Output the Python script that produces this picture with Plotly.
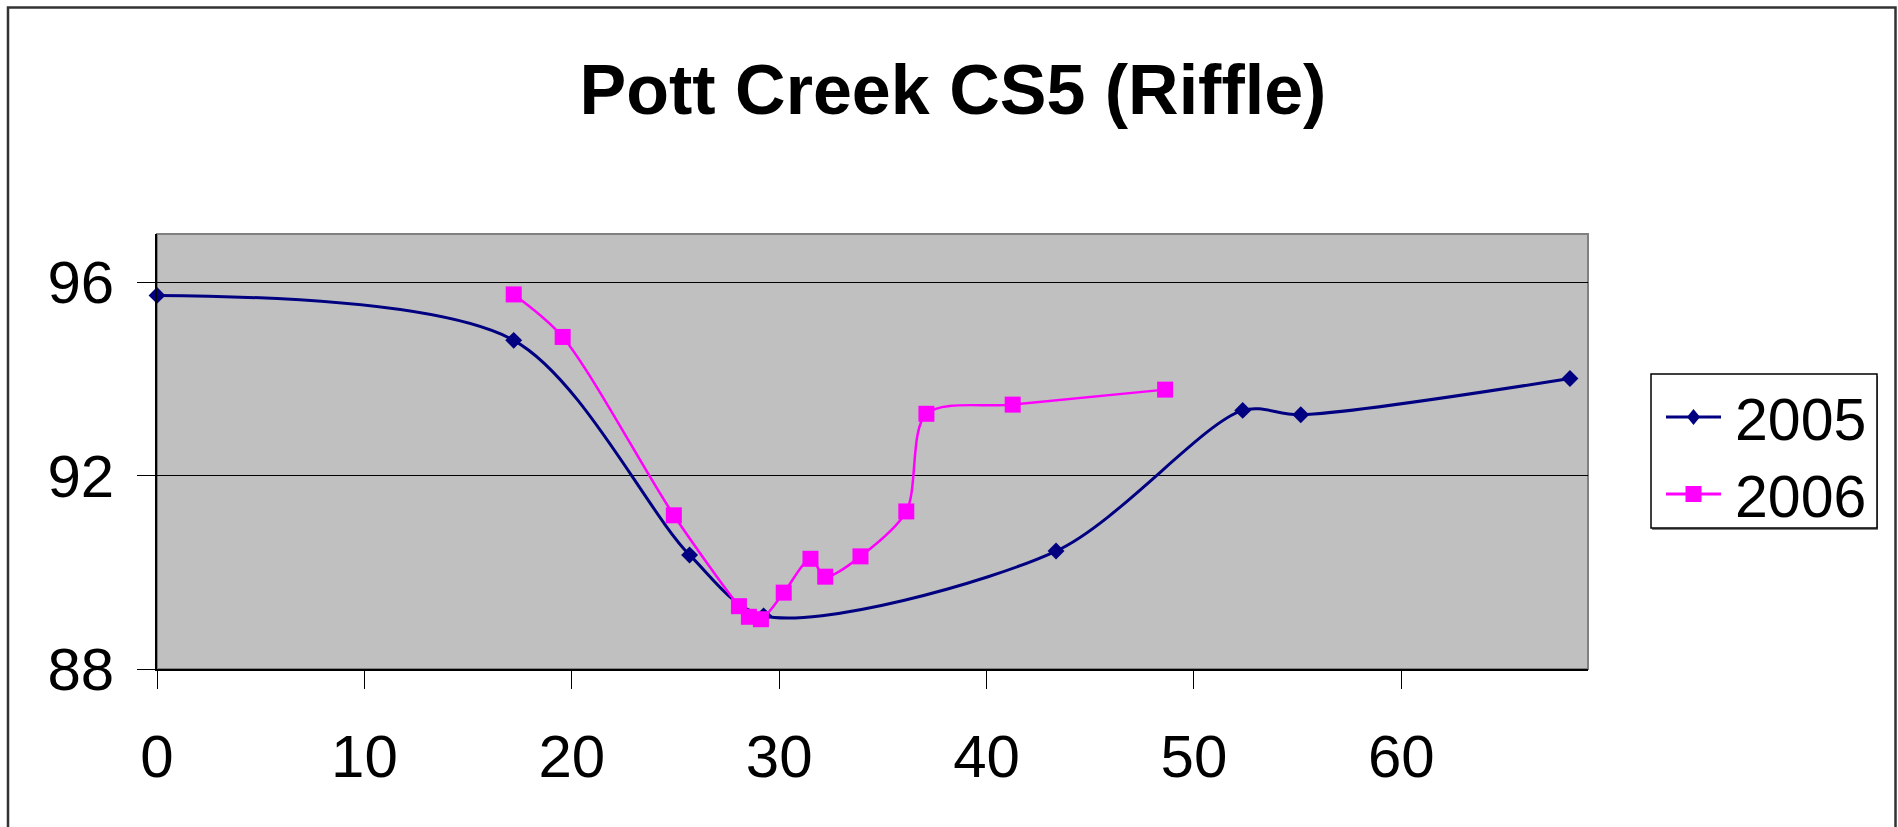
import plotly.graph_objects as go

# ---- data ----
x_2005 = [0, 17.2, 25.68, 29.25, 43.35, 52.35, 55.15, 68.13]
y_2005 = [95.73, 94.8, 90.36, 89.1, 90.44, 93.35, 93.26, 94.01]

x_2006 = [17.2, 19.56, 24.92, 28.06, 28.54, 29.12, 30.22, 31.51, 32.22, 33.92, 36.13, 37.1, 41.26, 48.61]
y_2006 = [95.75, 94.87, 91.18, 89.3, 89.08, 89.03, 89.58, 90.28, 89.91, 90.33, 91.26, 93.28, 93.47, 93.78]

series_names = ["2005", "2006"]
series_colors = ["#000080", "#FF00FF"]
title_text = "Pott Creek CS5 (Riffle)"
x_ticks = [0, 10, 20, 30, 40, 50, 60]
y_ticks = [88, 92, 96]

# ---- layout geometry (pixels) ----
W, H = 1898, 827
ML, MR, MT, MB = 157, W - 1588, 234, H - 669
PW = W - ML - MR
PH = H - MT - MB

def px_x(px):
    return (px - ML) / PW

def px_y(py):
    return (H - MB - py) / PH

FONT = "Liberation Sans, Arial, sans-serif"

fig = go.Figure()
fig.add_trace(go.Scatter(
    x=x_2005, y=y_2005, name=series_names[0], mode="lines+markers",
    line=dict(color=series_colors[0], width=3, shape="spline", smoothing=0.85),
    marker=dict(symbol="diamond", size=13, color=series_colors[0]),
    showlegend=False, cliponaxis=False,
))
fig.add_trace(go.Scatter(
    x=x_2006, y=y_2006, name=series_names[1], mode="lines+markers",
    line=dict(color=series_colors[1], width=2.5, shape="spline", smoothing=0.85),
    marker=dict(symbol="square", size=16, color=series_colors[1]),
    showlegend=False, cliponaxis=False,
))

# ---- custom legend (box, sample lines, symbols, labels) ----
LEG_X0, LEG_X1, LEG_Y0, LEG_Y1 = 1651, 1877, 374, 528
row_y = [417, 494]
line_x0, line_x1, sym_x, text_x = 1666, 1721, 1693.5, 1733

shapes = [
    # plot-area border (gray)
    dict(type="rect", xref="paper", yref="paper", x0=0, x1=1, y0=0, y1=1,
         line=dict(color="#808080", width=2), layer="below"),
    # outer chart border
    dict(type="rect", xref="paper", yref="paper",
         x0=px_x(8), x1=px_x(1895.5), y0=px_y(840), y1=px_y(7.5),
         line=dict(color="#333333", width=2.5), layer="above"),
    # legend shadow
    dict(type="rect", xref="paper", yref="paper",
         x0=px_x(LEG_X0 + 1), x1=px_x(LEG_X1 + 1), y0=px_y(LEG_Y1 + 2), y1=px_y(LEG_Y0 + 2),
         fillcolor="#808080", line=dict(width=0), layer="above"),
    # legend box
    dict(type="rect", xref="paper", yref="paper",
         x0=px_x(LEG_X0), x1=px_x(LEG_X1), y0=px_y(LEG_Y1), y1=px_y(LEG_Y0),
         fillcolor="white", line=dict(color="black", width=1.5), layer="above"),
]
annotations = []
sym_paths = ["M0,8 L6.5,0 L0,-8 L-6.5,0 Z", "M-8,8 L8,8 L8,-8 L-8,-8 Z"]
for i in range(2):
    shapes.append(dict(type="line", xref="paper", yref="paper",
                       x0=px_x(line_x0), x1=px_x(line_x1), y0=px_y(row_y[i]), y1=px_y(row_y[i]),
                       line=dict(color=series_colors[i], width=3), layer="above"))
    shapes.append(dict(type="path", xref="paper", yref="paper",
                       xsizemode="pixel", ysizemode="pixel",
                       xanchor=px_x(sym_x), yanchor=px_y(row_y[i]),
                       path=sym_paths[i], fillcolor=series_colors[i],
                       line=dict(width=0), layer="above"))
    annotations.append(dict(text=series_names[i], xref="paper", yref="paper",
                            x=px_x(text_x), y=px_y(row_y[i] + 3), xanchor="left", yanchor="middle",
                            showarrow=False, font=dict(size=59, family=FONT, color="black")))

fig.update_layout(
    width=W, height=H,
    margin=dict(l=ML, r=MR, t=MT, b=MB, pad=0),
    paper_bgcolor="white",
    plot_bgcolor="#C0C0C0",
    font=dict(family=FONT, color="black"),
    showlegend=False,
    title=dict(text="<b>" + title_text + "</b>", x=953 / W, xanchor="center",
               y=1 - 89 / H, yanchor="middle",
               font=dict(size=70, family=FONT, color="black")),
    xaxis=dict(range=[0, 69], tickvals=x_ticks, ticks="outside", ticklen=18,
               tickcolor="black", tickwidth=1, showgrid=False, zeroline=False,
               showline=True, linecolor="black", linewidth=2,
               tickfont=dict(size=60, family=FONT), ticklabelstandoff=16),
    yaxis=dict(range=[88, 97], tickvals=y_ticks, ticks="outside", ticklen=18,
               tickcolor="black", tickwidth=1, showgrid=True, gridcolor="black",
               gridwidth=1, zeroline=False, showline=True, linecolor="black",
               linewidth=1.5, tickfont=dict(size=60, family=FONT),
               ticklabelstandoff=11),
    shapes=shapes,
    annotations=annotations,
)

fig.write_html("out.html", config={"displayModeBar": False},
               post_script="document.body.style.margin='0';document.body.style.overflow='hidden';")
